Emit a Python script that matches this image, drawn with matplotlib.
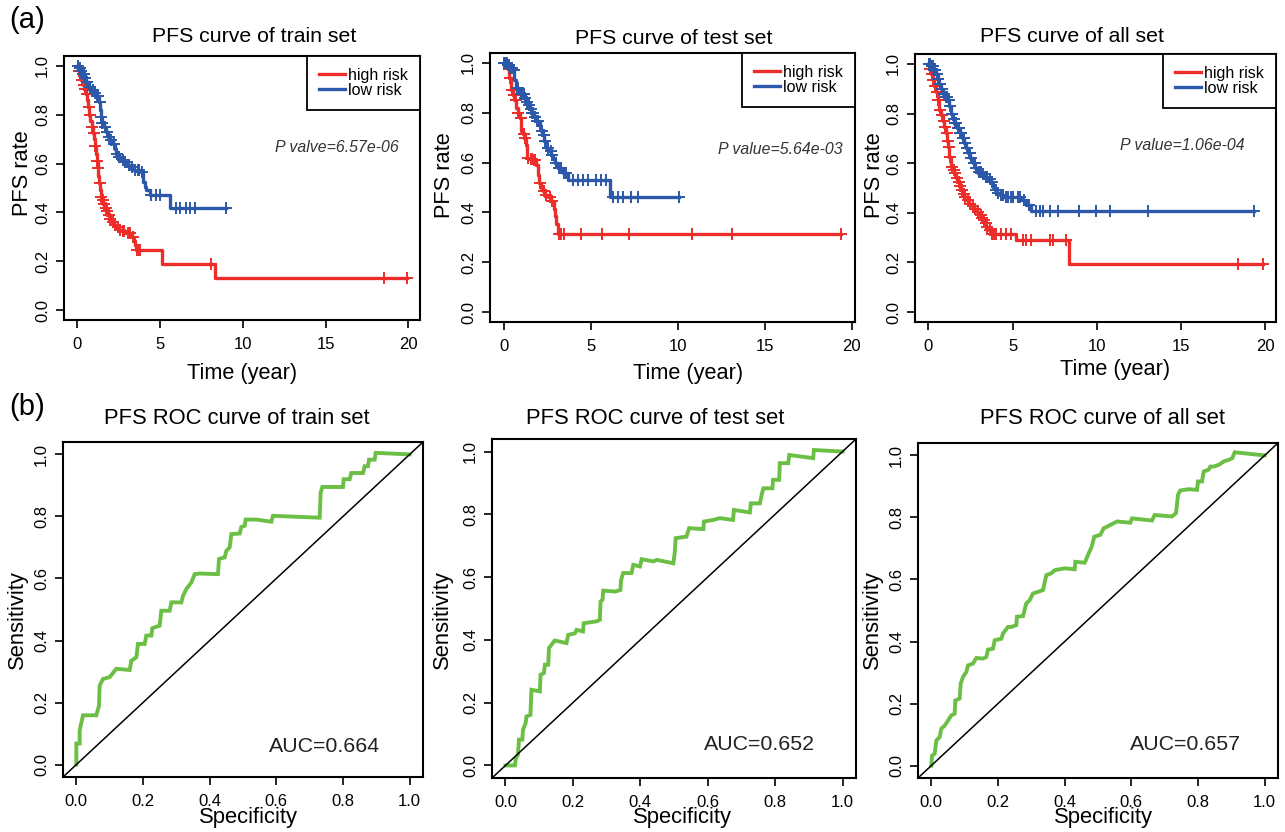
import numpy as np
import matplotlib
matplotlib.use('Agg')
import matplotlib.pyplot as plt

plt.rcParams['font.family'] = ['Liberation Sans', 'DejaVu Sans']

W, H = 1285, 832
RED = '#EC2D2A'
BLUE = '#2B58A8'
GREEN = '#6CBF45'

# ---- KM data (event times / survival after event, censor times) ----
train_high_t = [0, 0.08, 0.16, 0.25, 0.36, 0.45, 0.55, 0.62, 0.68, 0.74, 0.8, 0.88, 0.95, 1.02, 1.08,
                1.13, 1.18, 1.23, 1.28, 1.33, 1.38, 1.43, 1.5, 1.58, 1.67, 1.77, 1.87, 1.98, 2.1, 2.22,
                2.35, 2.5, 2.68, 2.9, 3.3, 3.4, 3.5, 3.58, 5.1, 8.3]
train_high_s = [1.0, 0.98, 0.955, 0.94, 0.92, 0.905, 0.885, 0.86, 0.83, 0.80, 0.775, 0.75, 0.725, 0.70, 0.67,
                0.64, 0.61, 0.58, 0.55, 0.52, 0.49, 0.465, 0.45, 0.435, 0.42, 0.405, 0.39, 0.375, 0.36, 0.35,
                0.34, 0.33, 0.325, 0.315, 0.30, 0.285, 0.265, 0.245, 0.19, 0.13]
train_high_c = [0.12, 0.3, 0.42, 0.5, 0.58, 0.7, 0.78, 0.92, 1.0, 1.1, 1.2, 1.25, 1.35, 1.45, 1.55, 1.62,
                1.72, 1.82, 1.92, 2.0, 2.15, 2.3, 2.45, 2.6, 2.75, 2.85, 3.05, 3.2, 3.35, 3.62, 3.7, 3.8,
                8.1, 18.5, 19.9]

train_low_t = [0, 0.1, 0.2, 0.3, 0.45, 0.56, 0.7, 0.86, 1.0, 1.17, 1.3, 1.37, 1.42, 1.47, 1.6, 1.75, 1.87,
               2.0, 2.17, 2.3, 2.37, 2.5, 2.67, 2.8, 2.97, 3.2, 3.38, 3.88, 3.98, 4.1, 4.18, 4.38, 5.6]
train_low_s = [1.0, 0.99, 0.98, 0.965, 0.95, 0.935, 0.915, 0.90, 0.89, 0.875, 0.85, 0.82, 0.79, 0.765, 0.75,
               0.73, 0.71, 0.695, 0.68, 0.66, 0.64, 0.625, 0.615, 0.605, 0.595, 0.585, 0.575, 0.567, 0.526,
               0.505, 0.49, 0.47, 0.42]
train_low_c = [0.05, 0.15, 0.25, 0.35, 0.4, 0.5, 0.62, 0.75, 0.8, 0.95, 1.1, 1.2, 1.25, 1.35, 1.45, 1.52,
               1.65, 1.8, 1.9, 2.05, 2.2, 2.4, 2.55, 2.75, 2.9, 3.1, 3.3, 3.5, 3.65, 3.75, 3.9, 4.48, 4.78,
               4.98, 5.99, 6.19, 6.59, 6.79, 7.09, 9.0]

test_high_t = [0, 0.25, 0.34, 0.44, 0.55, 0.63, 0.73, 0.82, 0.92, 1.02, 1.1, 1.21, 1.3, 1.34, 1.5, 1.69,
               1.88, 1.97, 2.05, 2.16, 2.25, 2.36, 2.55, 2.74, 2.87, 2.95, 3.03, 3.12]
test_high_s = [1.0, 0.975, 0.94, 0.89, 0.87, 0.85, 0.82, 0.80, 0.78, 0.725, 0.715, 0.70, 0.67, 0.62, 0.615,
               0.61, 0.59, 0.55, 0.52, 0.50, 0.485, 0.47, 0.46, 0.445, 0.415, 0.385, 0.355, 0.315]
test_high_c = [0.1, 0.2, 0.3, 0.4, 0.5, 0.6, 0.7, 0.85, 1.0, 1.15, 1.25, 1.4, 1.55, 1.62, 1.75, 1.82, 2.1,
               2.3, 2.45, 2.65, 2.8, 3.2, 3.3, 3.45, 4.46, 5.67, 7.2, 10.82, 13.12, 19.4]

test_low_t = [0, 0.2, 0.35, 0.54, 0.62, 0.73, 0.92, 1.21, 1.3, 1.4, 1.5, 1.59, 1.75, 1.88, 2.07, 2.15, 2.26,
              2.35, 2.45, 2.6, 2.74, 2.85, 2.93, 3.12, 3.41, 3.7, 6.1]
test_low_s = [1.0, 0.99, 0.98, 0.97, 0.93, 0.90, 0.875, 0.86, 0.845, 0.83, 0.815, 0.80, 0.785, 0.766, 0.74,
              0.725, 0.71, 0.685, 0.66, 0.645, 0.63, 0.615, 0.60, 0.577, 0.56, 0.53, 0.46]
test_low_c = [0.05, 0.1, 0.15, 0.25, 0.3, 0.4, 0.45, 0.5, 0.6, 0.8, 0.85, 1.0, 1.1, 1.15, 1.25, 1.35, 1.45,
              1.55, 1.65, 1.7, 1.8, 1.95, 2.0, 2.2, 2.3, 2.4, 2.55, 2.7, 2.8, 3.0, 3.2, 3.3, 3.5, 3.6, 3.98,
              4.27, 4.56, 4.84, 5.33, 5.61, 5.9, 6.28, 6.57, 6.86, 7.34, 7.72, 10.1]

all_high_t = [0, 0.08, 0.16, 0.26, 0.36, 0.46, 0.56, 0.65, 0.75, 0.85, 0.95, 1.05, 1.12, 1.19, 1.25, 1.35,
              1.45, 1.55, 1.65, 1.75, 1.85, 1.94, 2.04, 2.14, 2.3, 2.44, 2.6, 2.74, 2.9, 3.04, 3.14, 3.23,
              3.33, 3.43, 3.58, 3.73, 5.2, 8.35]
all_high_s = [1.0, 0.98, 0.96, 0.935, 0.91, 0.885, 0.855, 0.815, 0.795, 0.77, 0.745, 0.72, 0.69, 0.666,
              0.626, 0.585, 0.572, 0.56, 0.542, 0.525, 0.508, 0.49, 0.477, 0.464, 0.45, 0.437, 0.427, 0.417,
              0.403, 0.39, 0.38, 0.37, 0.357, 0.343, 0.33, 0.316, 0.289, 0.193]
all_high_c = [0.05, 0.12, 0.2, 0.3, 0.4, 0.5, 0.6, 0.7, 0.8, 0.9, 1.0, 1.08, 1.15, 1.22, 1.3, 1.4, 1.5, 1.6,
              1.7, 1.8, 1.9, 2.0, 2.1, 2.2, 2.35, 2.5, 2.65, 2.8, 2.95, 3.1, 3.2, 3.3, 3.4, 3.5, 3.65, 3.8,
              3.9, 4.03, 4.33, 4.62, 4.92, 5.62, 5.81, 6.11, 7.2, 7.4, 8.2, 18.41, 19.86]

all_low_t = [0, 0.15, 0.3, 0.46, 0.55, 0.65, 0.75, 0.85, 1.0, 1.15, 1.25, 1.35, 1.45, 1.55, 1.7, 1.85, 2.0,
             2.14, 2.25, 2.34, 2.5, 2.64, 2.8, 2.94, 3.15, 3.33, 3.55, 3.73, 3.85, 3.93, 4.08, 4.23, 4.52,
             5.52, 5.81, 6.11]
all_low_s = [1.0, 0.99, 0.975, 0.96, 0.94, 0.92, 0.90, 0.88, 0.865, 0.855, 0.83, 0.80, 0.78, 0.76, 0.74,
             0.72, 0.70, 0.68, 0.66, 0.64, 0.62, 0.60, 0.58, 0.565, 0.555, 0.545, 0.535, 0.525, 0.505, 0.49,
             0.48, 0.47, 0.464, 0.45, 0.43, 0.408]
all_low_c = [0.05, 0.1, 0.2, 0.25, 0.35, 0.4, 0.5, 0.6, 0.7, 0.8, 0.9, 0.95, 1.05, 1.1, 1.2, 1.3, 1.4, 1.5,
             1.6, 1.65, 1.75, 1.8, 1.9, 1.95, 2.05, 2.1, 2.2, 2.3, 2.4, 2.45, 2.55, 2.7, 2.75, 2.85, 3.0,
             3.1, 3.25, 3.4, 3.5, 3.65, 3.8, 4.0, 4.15, 4.3, 4.45, 4.6, 4.75, 4.9, 5.05, 5.3, 5.45, 5.7,
             5.95, 6.41, 6.61, 6.81, 7.2, 7.7, 8.95, 9.94, 10.77, 13.06, 19.37]

km_titles = ['PFS curve of train set', 'PFS curve of test set', 'PFS curve of all set']
p_texts = ['P valve=6.57e-06', 'P value=5.64e-03', 'P value=1.06e-04']

# ---- ROC data ----
train_fpr = [0, 0, 0.01, 0.01, 0.02, 0.06, 0.068, 0.07, 0.08, 0.1, 0.12, 0.16, 0.165, 0.18, 0.185, 0.205,
             0.21, 0.225, 0.228, 0.25, 0.255, 0.28, 0.285, 0.315, 0.32, 0.33, 0.345, 0.355, 0.37, 0.425,
             0.428, 0.445, 0.45, 0.46, 0.465, 0.49, 0.495, 0.505, 0.508, 0.54, 0.585, 0.59, 0.73, 0.733,
             0.738, 0.8, 0.802, 0.82, 0.825, 0.86, 0.865, 0.875, 0.878, 0.895, 0.898, 1.0]
train_tpr = [0, 0.068, 0.068, 0.11, 0.159, 0.159, 0.19, 0.255, 0.276, 0.282, 0.309, 0.305, 0.335, 0.346,
             0.389, 0.389, 0.416, 0.416, 0.44, 0.448, 0.496, 0.496, 0.523, 0.523, 0.544, 0.566, 0.587, 0.614,
             0.616, 0.614, 0.663, 0.668, 0.689, 0.70, 0.743, 0.745, 0.766, 0.77, 0.79, 0.79, 0.783, 0.802,
             0.796, 0.877, 0.895, 0.895, 0.92, 0.92, 0.94, 0.94, 0.962, 0.962, 0.983, 0.983, 1.005, 1.0]

test_fpr = [0, 0.028, 0.031, 0.037, 0.04, 0.05, 0.052, 0.06, 0.062, 0.074, 0.077, 0.102, 0.104, 0.114,
            0.117, 0.127, 0.129, 0.146, 0.181, 0.186, 0.206, 0.211, 0.23, 0.232, 0.27, 0.28, 0.282, 0.288,
            0.29, 0.325, 0.341, 0.343, 0.349, 0.374, 0.379, 0.399, 0.404, 0.439, 0.449, 0.498, 0.502, 0.505,
            0.537, 0.545, 0.587, 0.589, 0.616, 0.636, 0.675, 0.678, 0.725, 0.728, 0.755, 0.76, 0.765, 0.792,
            0.794, 0.812, 0.814, 0.839, 0.842, 0.913, 0.915, 1.0]
test_tpr = [0, 0, 0.023, 0.034, 0.082, 0.082, 0.114, 0.135, 0.156, 0.161, 0.241, 0.236, 0.289, 0.294, 0.321,
            0.321, 0.374, 0.398, 0.39, 0.416, 0.421, 0.432, 0.427, 0.453, 0.459, 0.464, 0.522, 0.528, 0.557,
            0.554, 0.559, 0.591, 0.613, 0.613, 0.639, 0.634, 0.657, 0.65, 0.655, 0.644, 0.676, 0.724, 0.729,
            0.756, 0.753, 0.777, 0.782, 0.788, 0.782, 0.814, 0.806, 0.835, 0.835, 0.862, 0.883, 0.883, 0.91,
            0.91, 0.963, 0.963, 0.989, 0.979, 1.005, 1.0]

all_fpr = [0, 0.002, 0.01, 0.015, 0.025, 0.03, 0.04, 0.05, 0.06, 0.07, 0.072, 0.085, 0.088, 0.095, 0.105,
           0.11, 0.125, 0.135, 0.155, 0.165, 0.17, 0.185, 0.19, 0.21, 0.215, 0.23, 0.24, 0.255, 0.257, 0.275,
           0.285, 0.295, 0.305, 0.32, 0.335, 0.345, 0.36, 0.37, 0.4, 0.43, 0.432, 0.46, 0.47, 0.481, 0.489,
           0.507, 0.517, 0.532, 0.557, 0.597, 0.602, 0.662, 0.67, 0.722, 0.734, 0.74, 0.747, 0.772, 0.797,
           0.8, 0.812, 0.817, 0.832, 0.837, 0.847, 0.863, 0.878, 0.893, 0.903, 0.91, 1.0]
all_tpr = [0, 0.032, 0.038, 0.081, 0.092, 0.119, 0.129, 0.145, 0.162, 0.167, 0.21, 0.216, 0.264, 0.286,
           0.302, 0.323, 0.329, 0.347, 0.345, 0.35, 0.374, 0.377, 0.404, 0.409, 0.426, 0.447, 0.447, 0.453,
           0.48, 0.482, 0.523, 0.533, 0.555, 0.56, 0.566, 0.614, 0.62, 0.63, 0.636, 0.633, 0.657, 0.654,
           0.679, 0.706, 0.738, 0.744, 0.765, 0.773, 0.787, 0.783, 0.797, 0.79, 0.808, 0.803, 0.814, 0.873,
           0.887, 0.891, 0.889, 0.916, 0.916, 0.948, 0.954, 0.964, 0.964, 0.97, 0.981, 0.986, 0.991, 1.01,
           1.0]

roc_titles = ['PFS ROC curve of train set', 'PFS ROC curve of test set', 'PFS ROC curve of all set']
auc_texts = ['AUC=0.664', 'AUC=0.652', 'AUC=0.657']


def add_ax(fig, l, t, r, b):
    return fig.add_axes([l / W, 1 - b / H, (r - l) / W, (b - t) / H])


def ftext(fig, x, y, s, **kw):
    fig.text(x / W, 1 - y / H, s, ha='center', va='center', **kw)


def style(ax):
    for sp in ax.spines.values():
        sp.set_linewidth(1.5)
    ax.tick_params(direction='out', length=6, width=1.2, labelsize=12, pad=4)
    ax.tick_params(axis='x', pad=6)
    ax.tick_params(axis='y', labelrotation=90)
    ax.set_yticks([0, 0.2, 0.4, 0.6, 0.8, 1.0])
    ax.set_yticklabels(['0.0', '0.2', '0.4', '0.6', '0.8', '1.0'], va='center')


def km_curve(ax, t, s, c, color, label):
    t = np.asarray(t)
    s = np.asarray(s)
    c = np.asarray(c)
    tend = max(t.max(), c.max())
    tt = np.append(t, tend)
    ss = np.append(s, s[-1])
    ax.step(tt, ss, where='post', color=color, lw=2.4, label=label)
    cy = s[np.searchsorted(t, c, side='right') - 1]
    ax.plot(c, cy, ls='none', marker='+', ms=8.5, mew=1.4, color=color)
    return tend


fig = plt.figure(figsize=(W / 100, H / 100), dpi=100)

km_sets = [
    (train_high_t, train_high_s, train_high_c, train_low_t, train_low_s, train_low_c),
    (test_high_t, test_high_s, test_high_c, test_low_t, test_low_s, test_low_c),
    (all_high_t, all_high_s, all_high_c, all_low_t, all_low_s, all_low_c),
]
km_boxes = [(64, 56, 420, 320), (490, 53, 855, 322), (915, 54, 1276, 322)]
title_xy = [(254, 37), (674, 39), (1072, 37)]
p_pos = [(15.7, 0.664), (15.9, 0.654), (15.1, 0.67)]
xlab_xy = [(242, 373), (688, 373), (1115, 370)]
ylab_xy = [(23, 173), (444, 175), (874, 175)]

for i in range(3):
    ht, hs, hc, lt, ls_, lc = km_sets[i]
    ax = add_ax(fig, *km_boxes[i])
    m1 = km_curve(ax, ht, hs, hc, RED, 'high risk')
    m2 = km_curve(ax, lt, ls_, lc, BLUE, 'low risk')
    tmax = max(m1, m2)
    ax.set_xlim(-0.04 * tmax, 1.04 * tmax)
    ax.set_ylim(-0.04, 1.04)
    ax.set_xticks([0, 5, 10, 15, 20])
    style(ax)
    ax.text(p_pos[i][0], p_pos[i][1], p_texts[i], ha='center', va='center',
            fontsize=11.4, style='italic', color='#333333')
    leg = ax.legend(loc='upper right', borderaxespad=0, fancybox=False, edgecolor='black',
                    framealpha=1, fontsize=11.5, handlelength=1.6, labelspacing=0.0,
                    borderpad=0.75, handletextpad=0.2)
    leg.get_frame().set_linewidth(1.3)
    ftext(fig, *title_xy[i], km_titles[i], fontsize=15.3)
    ftext(fig, *xlab_xy[i], 'Time (year)', fontsize=15.7)
    ftext(fig, *ylab_xy[i], 'PFS rate', fontsize=15.7, rotation=90)

roc_sets = [(train_fpr, train_tpr), (test_fpr, test_tpr), (all_fpr, all_tpr)]
roc_boxes = [(63, 442, 423, 777), (492, 439, 856, 778), (918, 443, 1278, 778)]
rtitle_xy = [(237, 418), (655, 418), (1103, 418)]
auc_pos = [(0.745, 0.059), (0.755, 0.066), (0.762, 0.068)]
rxlab_xy = [(248, 818), (682, 818), (1103, 818)]
rylab_xy = [(17, 620), (442, 620), (872, 620)]

for i in range(3):
    fpr, tpr = roc_sets[i]
    ax = add_ax(fig, *roc_boxes[i])
    ax.plot(fpr, tpr, color=GREEN, lw=2.8, solid_joinstyle='miter')
    ax.axline((0, 0), slope=1, color='black', lw=1.1)
    ax.set_xlim(-0.04, 1.04)
    ax.set_ylim(-0.04, 1.04)
    ax.set_xticks([0, 0.2, 0.4, 0.6, 0.8, 1.0])
    ax.set_xticklabels(['0.0', '0.2', '0.4', '0.6', '0.8', '1.0'])
    style(ax)
    ax.text(auc_pos[i][0], auc_pos[i][1], auc_texts[i], ha='center', va='center',
            fontsize=15.4, color='#222222')
    ftext(fig, *rtitle_xy[i], roc_titles[i], fontsize=15.8)
    ftext(fig, *rxlab_xy[i], 'Specificity', fontsize=15.8)
    ftext(fig, *rylab_xy[i], 'Sensitivity', fontsize=15.8, rotation=90)

ftext(fig, 27, 20, '(a)', fontsize=21)
ftext(fig, 27, 407, '(b)', fontsize=21)

plt.savefig('out.png', dpi=100)
plt.close()
